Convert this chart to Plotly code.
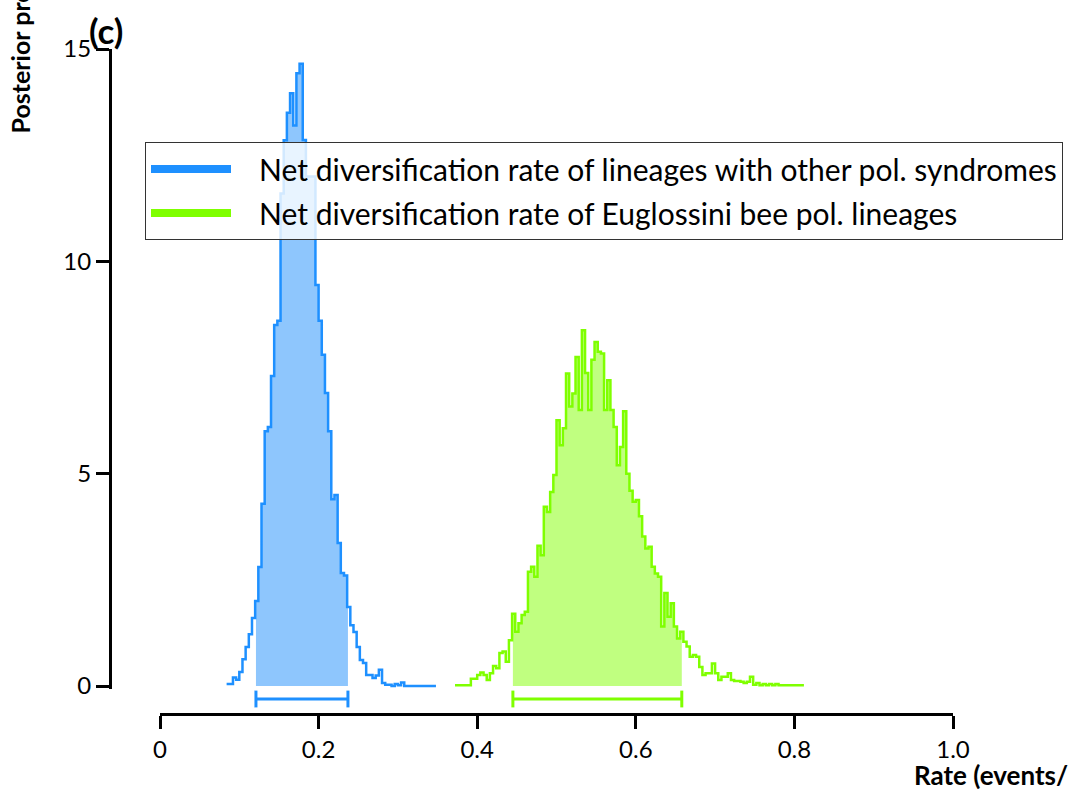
import numpy as np
import plotly.graph_objects as go

W, H = 1069, 793

# ---- data ----
bin_width = 0.004
blue_start = 0.084
blue_vals = [0.05, 0.05, 0.2, 0.15, 0.33, 0.63, 0.92, 1.22, 1.6, 2.0,
             2.8, 4.29, 6.0, 6.1, 7.3, 8.5, 8.6, 11.6, 12.85, 13.5,
             13.96, 13.2, 14.43, 14.65, 12.86, 12.0, 12.0, 12.0, 9.44, 8.6,
             7.8, 6.9, 6.0, 4.4, 4.5, 3.37, 2.66, 2.6, 1.86, 1.43,
             1.27, 0.92, 0.61, 0.54, 0.26, 0.26, 0.19, 0.25, 0.38, 0.07,
             0.03, 0.03, 0.0, 0.05, 0.02, 0.08, 0, 0, 0, 0,
             0, 0, 0, 0, 0, 0]
green_start = 0.372
green_vals = [0.02, 0.02, 0.02, 0.02, 0.02, 0.17, 0.17, 0.26, 0.32, 0.26,
              0.14, 0.3, 0.47, 0.42, 0.78, 0.81, 0.57, 1.08, 1.7, 1.28,
              1.48, 1.67, 1.75, 2.69, 2.81, 2.57, 3.3, 3.08, 4.22, 4.1,
              4.57, 4.97, 6.26, 5.67, 6.07, 7.36, 6.58, 6.89, 7.75, 6.5,
              8.38, 7.37, 6.5, 7.68, 8.1, 7.87, 7.83, 6.5, 7.2, 6.5,
              6.1, 5.2, 5.63, 6.47, 5.0, 4.6, 4.34, 4.38, 4.0, 3.52,
              3.24, 3.28, 2.81, 2.65, 2.57, 1.4, 2.19, 1.63, 1.95, 1.4,
              1.12, 1.28, 1.04, 0.93, 0.69, 0.73, 0.69, 0.45, 0.26, 0.3,
              0.3, 0.53, 0.3, 0.14, 0.22, 0.22, 0.3, 0.14, 0.12, 0.12,
              0.1, 0.07, 0.1, 0.22, 0.03, 0.07, 0.02, 0.05, 0.02, 0.05,
              0.02, 0.05, 0.02, 0.02, 0.02, 0.02, 0.02, 0.02, 0.02, 0.02]
blue_hpd = [0.121, 0.237]
green_hpd = [0.445, 0.658]

legend_names = ["Net diversification rate of lineages with other pol. syndromes",
                "Net diversification rate of Euglossini bee pol. lineages"]
x_tickvals = [0, 0.2, 0.4, 0.6, 0.8, 1.0]
x_ticktext = ["0", "0.2", "0.4", "0.6", "0.8", "1.0"]
y_tickvals = [0, 5, 10, 15]

BLUE, BLUE_FILL = "#1E90FF", "#8EC6FD"
GREEN, GREEN_FILL = "#7FFF00", "#C0FF80"
FONT = "Lato"


def step_xy(start, vals):
    edges = start + bin_width * np.arange(len(vals) + 1)
    ys = list(vals) + [vals[-1]]
    return edges, ys


def hpd_fill_xy(start, vals, lo, hi):
    edges = start + bin_width * np.arange(len(vals) + 1)
    def val_at(x):
        i = int(np.clip(np.floor((x - start) / bin_width + 1e-9), 0, len(vals) - 1))
        return vals[i]
    xs = [lo] + [e for e in edges if lo < e < hi] + [hi]
    ys = [val_at(x) for x in xs[:-1]] + [val_at(xs[-2])]
    return xs, ys


fig = go.Figure()

for start, vals, hpd, col, fcol in [(blue_start, blue_vals, blue_hpd, BLUE, BLUE_FILL),
                                     (green_start, green_vals, green_hpd, GREEN, GREEN_FILL)]:
    fx, fy = hpd_fill_xy(start, vals, hpd[0], hpd[1])
    fig.add_trace(go.Scatter(x=fx, y=fy, mode="lines", line=dict(width=0, shape="hv"),
                             fill="tozeroy", fillcolor=fcol, showlegend=False, hoverinfo="skip"))
    sx, sy = step_xy(start, vals)
    fig.add_trace(go.Scatter(x=sx, y=sy, mode="lines",
                             line=dict(color=col, width=2.5, shape="hv"), showlegend=False))
    # HPD interval bar
    fig.add_trace(go.Scatter(x=hpd, y=[0, 0], yaxis="y2", mode="lines+markers",
                             line=dict(color=col, width=3),
                             marker=dict(symbol="line-ns", size=12, line=dict(color=col, width=3)),
                             cliponaxis=False, showlegend=False))

gap = "\u00a0" * 3
for i, (name, col) in enumerate(zip(legend_names, [BLUE, GREEN])):
    fig.add_trace(go.Scatter(x=[None], y=[None], mode="lines", name=gap + name,
                             legendgroup="g%d" % i,
                             line=dict(color=col, width=8)))

ppx = 42.47  # px per y unit
y0px, y15px = 686, 49
ybot = -0.06
ydom = [(H - (y0px - ybot * ppx)) / H, (H - y15px) / H]

fig.update_layout(
    width=W, height=H,
    margin=dict(l=0, r=0, t=0, b=0, autoexpand=False),
    paper_bgcolor="white", plot_bgcolor="white",
    font=dict(family=FONT, color="black", size=24),
    xaxis=dict(domain=[160 / W, 953 / W], range=[0, 1.0], anchor="free",
               position=(H - 714) / H, automargin=False,
               showline=True, linewidth=3, linecolor="black",
               ticks="outside", ticklen=13, tickwidth=3, tickcolor="black",
               tickvals=x_tickvals, ticktext=x_ticktext,
               showgrid=False, zeroline=False, tickfont=dict(size=24)),
    yaxis=dict(domain=ydom, range=[ybot, 15], anchor="free", position=110 / W,
               automargin=False,
               showline=True, linewidth=3, linecolor="black",
               ticks="outside", ticklen=13, tickwidth=3, tickcolor="black",
               tickvals=y_tickvals, showgrid=False, zeroline=False,
               tickfont=dict(size=24)),
    yaxis2=dict(domain=[(H - 707) / H, (H - 691) / H], range=[-1, 1], anchor="x",
                visible=False),
    legend=dict(x=145 / W, y=(H - 142) / H, xanchor="left", yanchor="top",
                bgcolor="rgba(255,255,255,0.8)", bordercolor="#333333", borderwidth=1,
                font=dict(family=FONT, size=30), itemwidth=80, tracegroupgap=2,
                traceorder="grouped"),
    showlegend=True,
)

fig.add_annotation(text="<b>(c)</b>", x=106 / W, y=(H - 30) / H, xref="paper", yref="paper",
                   showarrow=False, font=dict(family=FONT, size=35), xanchor="center", yanchor="middle")
fig.add_annotation(text="<b>Posterior probability</b>", x=20 / W, y=(H - 136) / H,
                   xref="paper", yref="paper", showarrow=False, textangle=-90,
                   font=dict(family=FONT, size=25), xanchor="center", yanchor="bottom")
fig.add_annotation(text="<b>Rate (events/Myr)</b>", x=912 / W, y=(H - 775) / H,
                   xref="paper", yref="paper", showarrow=False,
                   font=dict(family=FONT, size=26), xanchor="left", yanchor="middle")

fig.write_html("out.html")
